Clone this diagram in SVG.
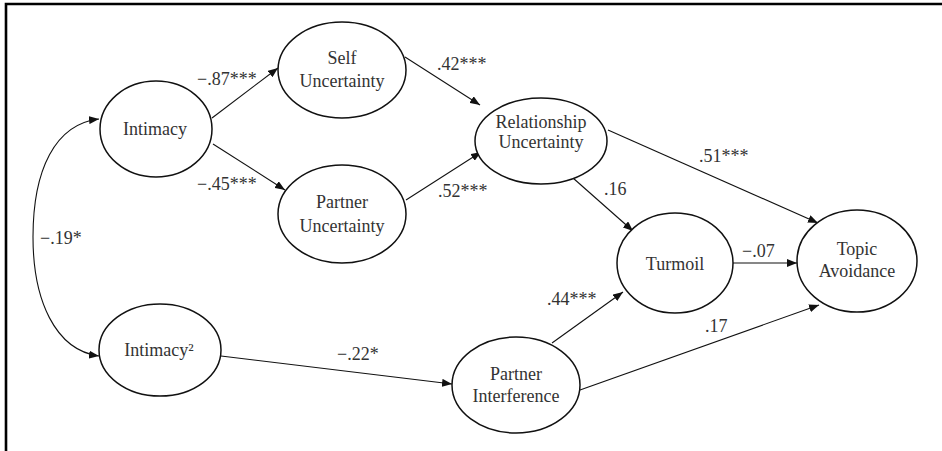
<svg xmlns="http://www.w3.org/2000/svg" width="942" height="451" viewBox="0 0 942 451">
<defs>
<marker id="arr" viewBox="0 0 10 8" refX="10" refY="4" markerWidth="10" markerHeight="8" markerUnits="userSpaceOnUse" orient="auto">
<path d="M0,0 L10,4 L0,8 Z" fill="#111"/>
</marker>
</defs>
<style>
.n{fill:#fff;stroke:#111;stroke-width:1.5}
text{font-family:'Liberation Serif','Tinos','Times New Roman','DejaVu Serif',serif;font-size:18px;fill:#333}
.t{text-anchor:middle}
.c{fill:none;stroke:#111;stroke-width:1.1;marker-end:url(#arr)}
</style>
<rect width="942" height="451" fill="#fff"/>
<path d="M6,451 V4 H942" fill="none" stroke="#000" stroke-width="2.6"/>
<g id="connectors">
<path class="c" d="M212,118 L278,68"/>
<path class="c" d="M213,144 L285,190"/>
<path class="c" d="M405,57 L480,105"/>
<path class="c" d="M406,200 L481,152"/>
<path class="c" d="M608,130 L818,223"/>
<path class="c" d="M573,178 L633,231"/>
<path class="c" d="M733,263 L797,263"/>
<path class="c" d="M552,343 L623,292"/>
<path class="c" d="M580,390 L819,305"/>
<path class="c" d="M221,356 L452,384"/>
<path class="c" d="M33,237 C33,170 55,124 99,119"/>
<path class="c" d="M33,237 C33,300 55,350 99,356"/>
</g>
<g id="labels" font-family="Liberation Serif, serif">
<text x="197" y="85">−.87***</text>
<text x="197" y="190">−.45***</text>
<text x="437" y="70">.42***</text>
<text x="438" y="197">.52***</text>
<text x="604" y="195">.16</text>
<text x="699" y="162">.51***</text>
<text x="40" y="244">−.19*</text>
<text x="337" y="360">−.22*</text>
<text x="547" y="305">.44***</text>
<text x="742" y="257">−.07</text>
<text x="705" y="332">.17</text>
</g>
<g id="intimacy">
<ellipse class="n" cx="156" cy="129" rx="56" ry="48"/>
<text class="t" x="155" y="135">Intimacy</text>
</g>
<g id="self-uncertainty">
<ellipse class="n" cx="342" cy="70" rx="64" ry="48"/>
<text class="t" x="342" y="64">Self</text>
<text class="t" x="342" y="87">Uncertainty</text>
</g>
<g id="partner-uncertainty">
<ellipse class="n" cx="342" cy="214" rx="64" ry="49"/>
<text class="t" x="342" y="208">Partner</text>
<text class="t" x="342" y="232">Uncertainty</text>
</g>
<g id="relationship-uncertainty">
<ellipse class="n" cx="541" cy="141" rx="66" ry="43"/>
<text class="t" x="541" y="128">Relationship</text>
<text class="t" x="541" y="148">Uncertainty</text>
</g>
<g id="turmoil">
<ellipse class="n" cx="675" cy="263" rx="58" ry="50"/>
<text class="t" x="675" y="270">Turmoil</text>
</g>
<g id="topic-avoidance">
<ellipse class="n" cx="857" cy="261" rx="60" ry="51"/>
<text class="t" x="857" y="255">Topic</text>
<text class="t" x="857" y="277">Avoidance</text>
</g>
<g id="intimacy2">
<ellipse class="n" cx="160" cy="350" rx="61" ry="46"/>
<text class="t" x="159" y="356">Intimacy²</text>
</g>
<g id="partner-interference">
<ellipse class="n" cx="516" cy="385" rx="64" ry="48"/>
<text class="t" x="516" y="380">Partner</text>
<text class="t" x="516" y="402">Interference</text>
</g>
</svg>
